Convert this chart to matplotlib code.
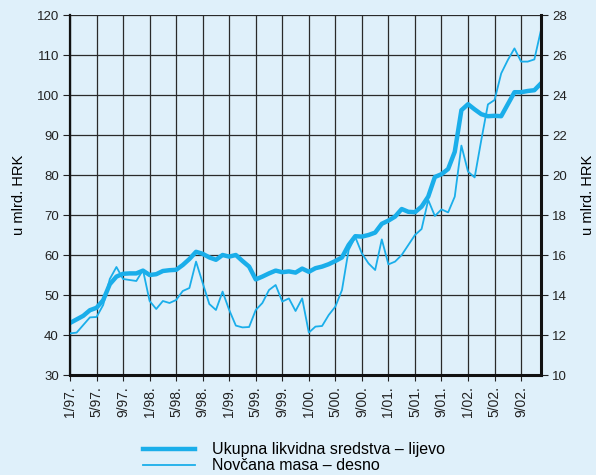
import matplotlib
matplotlib.use("Agg")
import matplotlib.pyplot as plt
import numpy as np

plt.rcParams["font.family"] = ["Liberation Sans", "DejaVu Sans"]

BG = "#dff0fa"
LINE = "#1aaeea"
GRID = "#2a2a2a"

# months from 1/97 to 12/02
months = np.arange(72)
tick_labels = [f"{m}/{y % 100:02d}." for y in range(1997, 2003) for m in (1, 5, 9)]

# Ukupna likvidna sredstva (left axis, mlrd. HRK)
likvidna = [
    43.0, 43.9, 44.8, 46.2, 46.8, 48.7, 52.7, 54.6, 55.3, 55.4,
    55.4, 56.1, 55.0, 55.2, 56.0, 56.2, 56.3, 57.5, 59.0, 60.8,
    60.3, 59.4, 58.8, 60.0, 59.6, 60.0, 58.5, 57.1, 53.9, 54.6,
    55.4, 56.1, 55.7, 55.9, 55.6, 56.6, 55.8, 56.7, 57.1, 57.7,
    58.5, 59.4, 62.5, 64.7, 64.6, 65.0, 65.6, 67.8, 68.6, 69.6,
    71.5, 70.8, 70.7, 72.1, 74.6, 79.5, 80.2, 81.5, 85.8, 96.2,
    97.7, 96.4, 95.2, 94.7, 94.8, 94.7, 97.7, 100.7, 100.7, 101.0,
    101.2, 102.9,
]

# Novcana masa (right axis, mlrd. HRK)
novcana = [
    12.08, 12.12, 12.5, 12.88, 12.9, 13.5, 14.8, 15.4, 14.8, 14.75,
    14.7, 15.25, 13.7, 13.3, 13.7, 13.6, 13.75, 14.2, 14.35, 15.67,
    14.6, 13.55, 13.25, 14.17, 13.25, 12.47, 12.38, 12.4, 13.25, 13.6,
    14.25, 14.5, 13.67, 13.83, 13.2, 13.83, 12.12, 12.42, 12.45, 13.0,
    13.42, 14.25, 16.25, 16.9, 16.08, 15.58, 15.25, 16.78, 15.53, 15.67,
    16.0, 16.5, 17.0, 17.3, 18.75, 17.95, 18.28, 18.13, 18.92, 21.47,
    20.17, 19.88, 21.75, 23.53, 23.75, 25.08, 25.75, 26.33, 25.67, 25.67,
    25.78, 27.25,
]

fig = plt.figure(figsize=(5.96, 4.75), dpi=100, facecolor=BG)
ax = fig.add_axes([70 / 596, 1 - 375 / 475, 471 / 596, 360 / 475])
ax.set_facecolor(BG)
ax2 = ax.twinx()

ax.set_xlim(0, 71)
ax.set_ylim(30, 120)
ax2.set_ylim(10, 28)

ax.set_xticks(months[::4])
ax.set_xticklabels(tick_labels, rotation=90, fontsize=10)
ax.set_yticks(np.arange(30, 121, 10))
ax2.set_yticks(np.arange(10, 29, 2))
ax.tick_params(axis="y", labelsize=9.5, length=5, width=0.8, pad=3, colors="#222")
ax2.tick_params(axis="y", labelsize=9.5, length=5, width=0.8, pad=3, colors="#222")
ax.tick_params(axis="x", length=4, width=0.8, pad=4, colors="#222")

ax.grid(True, color=GRID, linewidth=0.9)
ax.set_axisbelow(True)

for a in (ax, ax2):
    a.spines["top"].set_visible(False)
    for s in ("left", "right", "bottom"):
        a.spines[s].set_color("#111")
ax.spines["left"].set_linewidth(1.6)
ax.spines["bottom"].set_linewidth(2.2)
ax2.spines["right"].set_linewidth(2.2)
ax2.spines["left"].set_visible(False)
ax2.spines["bottom"].set_visible(False)

l1, = ax.plot(months, likvidna, color=LINE, linewidth=3.2, solid_joinstyle="round",
              label="Ukupna likvidna sredstva – lijevo")
l2, = ax2.plot(months, novcana, color=LINE, linewidth=1.3,
               label="Novčana masa – desno")

ax.set_ylabel("u mlrd. HRK", fontsize=10.5, labelpad=8)
ax2.set_ylabel("u mlrd. HRK", fontsize=10.5, rotation=90, labelpad=10)

fig.legend(handles=[l1, l2], loc="upper left", bbox_to_anchor=(137 / 596, 1 - 436 / 475),
           frameon=False, fontsize=11.5, handlelength=3.2, handletextpad=1.1,
           labelspacing=0.05, borderaxespad=0)

fig.savefig("out.png", dpi=100, facecolor=BG)
